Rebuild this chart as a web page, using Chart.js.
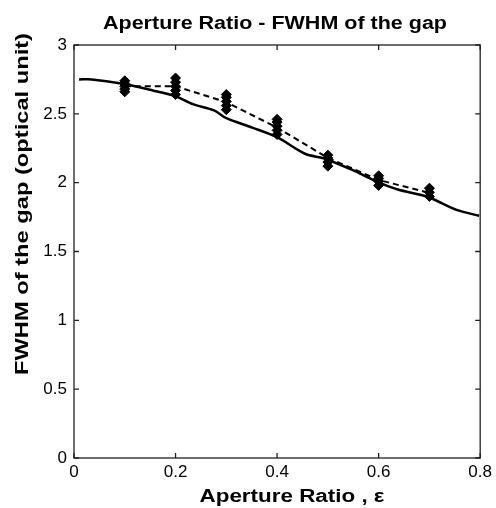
<!doctype html>
<html>
<head>
    <meta charset="utf-8" />
    <title>Aperture Ratio - FWHM of the gap</title>
    <script src="https://cdn.jsdelivr.net/npm/chart.js@4.4.1/dist/chart.umd.min.js"></script>
    <style>
        html, body { margin: 0; padding: 0; background: #fff; }
        #wrap { width: 496px; height: 508px; }
    </style>
</head>
<body>
    <div id="wrap"><canvas id="myChart" width="496" height="508"></canvas></div>
    <script>
        // theory curve (solid)
        var modelX = [0.01, 0.035, 0.093, 0.155, 0.198, 0.234, 0.276, 0.299, 0.351, 0.40, 0.455, 0.494, 0.547, 0.599, 0.638, 0.697, 0.755, 0.798];
        var modelY = [2.75, 2.75, 2.72, 2.67, 2.63, 2.57, 2.525, 2.47, 2.40, 2.33, 2.21, 2.174, 2.094, 2.004, 1.95, 1.896, 1.80, 1.76];

        // mean of measurements (dashed)
        var meanX = [0.1, 0.2, 0.3, 0.4, 0.5, 0.6, 0.7];
        var meanY = [2.70, 2.70, 2.585, 2.40, 2.18, 2.02, 1.925];

        // individual measurements (marker clusters)
        var sampleX = [0.1, 0.1, 0.1, 0.1, 0.1, 0.2, 0.2, 0.2, 0.2, 0.2, 0.3, 0.3, 0.3, 0.3, 0.3,
            0.4, 0.4, 0.4, 0.4, 0.4, 0.5, 0.5, 0.5, 0.5, 0.6, 0.6, 0.6, 0.6, 0.7, 0.7, 0.7];
        var sampleY = [2.66, 2.68, 2.70, 2.72, 2.74, 2.64, 2.67, 2.70, 2.73, 2.76, 2.53, 2.56, 2.59, 2.62, 2.64,
            2.35, 2.38, 2.41, 2.44, 2.46, 2.12, 2.15, 2.18, 2.20, 1.98, 2.01, 2.03, 2.05, 1.90, 1.93, 1.96];

        var xTicks = [0, 0.2, 0.4, 0.6, 0.8];
        var xTickLabels = ["0", "0.2", "0.4", "0.6", "0.8"];
        var yTicks = [0, 0.5, 1, 1.5, 2, 2.5, 3];
        var yTickLabels = ["0", "0.5", "1", "1.5", "2", "2.5", "3"];

        var titleText = "Aperture Ratio - FWHM of the gap";
        var xTitle = "Aperture Ratio , \u03b5";
        var yTitle = "FWHM of the gap (optical unit)";

        var FONT = "'Liberation Sans', Arial, sans-serif";

        function pts(xs, ys) {
            return xs.map(function (x, i) { return { x: x, y: ys[i] }; });
        }

        // the source picture has its text stretched along the line, so squeeze to a width
        function stretchedText(ctx, text, cx, cy, width, angle) {
            ctx.save();
            ctx.translate(cx, cy);
            ctx.rotate(angle);
            var w = ctx.measureText(text).width;
            ctx.scale(width / w, 1);
            ctx.fillText(text, 0, 0);
            ctx.restore();
        }

        // box, inward ticks and titles
        var frame = {
            id: "frame",
            afterDraw: function (chart) {
                var ctx = chart.ctx, a = chart.chartArea;
                var sx = chart.scales.x, sy = chart.scales.y;
                var t = 5;
                ctx.save();
                ctx.strokeStyle = "#222";
                ctx.lineWidth = 1.3;
                ctx.strokeRect(a.left, a.top, a.right - a.left, a.bottom - a.top);
                ctx.beginPath();
                xTicks.forEach(function (v) {
                    var px = sx.getPixelForValue(v);
                    ctx.moveTo(px, a.bottom); ctx.lineTo(px, a.bottom - t);
                    ctx.moveTo(px, a.top); ctx.lineTo(px, a.top + t);
                });
                yTicks.forEach(function (v) {
                    var py = sy.getPixelForValue(v);
                    ctx.moveTo(a.left, py); ctx.lineTo(a.left + t, py);
                    ctx.moveTo(a.right, py); ctx.lineTo(a.right - t, py);
                });
                ctx.stroke();

                ctx.fillStyle = "#000";
                ctx.textAlign = "center";
                ctx.textBaseline = "alphabetic";
                ctx.font = "bold 17.5px " + FONT;
                stretchedText(ctx, titleText, 275, 28.5, 344, 0);
                ctx.font = "bold 18px " + FONT;
                stretchedText(ctx, xTitle, 292, 501.5, 185, 0);
                stretchedText(ctx, yTitle, 28, 204, 342, -Math.PI / 2);
                ctx.restore();
            }
        };

        var chart = new Chart(document.getElementById("myChart"), {
            type: "scatter",
            data: {
                datasets: [{
                    label: "theory",
                    type: "line",
                    data: pts(modelX, modelY),
                    borderColor: "#000",
                    borderWidth: 2.5,
                    pointRadius: 0,
                    tension: 0.3,
                    fill: false
                }, {
                    label: "mean",
                    type: "line",
                    data: pts(meanX, meanY),
                    borderColor: "#000",
                    borderWidth: 2,
                    borderDash: [6, 4],
                    pointRadius: 0,
                    fill: false
                }, {
                    label: "samples",
                    data: pts(sampleX, sampleY),
                    pointStyle: "rectRot",
                    pointRadius: 5,
                    backgroundColor: "#000",
                    borderColor: "#000",
                    borderWidth: 1
                }]
            },
            options: {
                responsive: false,
                animation: false,
                layout: { padding: { left: 0, right: 13, top: 45, bottom: 0 } },
                plugins: {
                    legend: { display: false },
                    tooltip: { enabled: false },
                    title: { display: false }
                },
                scales: {
                    x: {
                        type: "linear",
                        min: 0, max: 0.8,
                        afterBuildTicks: function (s) { s.ticks = xTicks.map(function (v) { return { value: v }; }); },
                        afterFit: function (s) { s.height = 50; },
                        grid: { display: false, drawTicks: false },
                        border: { display: false },
                        ticks: {
                            padding: 4,
                            color: "#000",
                            maxRotation: 0,
                            font: { family: FONT, size: 17 },
                            callback: function (v) { return xTickLabels[xTicks.indexOf(v)]; }
                        }
                    },
                    y: {
                        min: 0, max: 3,
                        afterBuildTicks: function (s) { s.ticks = yTicks.map(function (v) { return { value: v }; }); },
                        afterFit: function (s) { s.width = 74; },
                        grid: { display: false, drawTicks: false },
                        border: { display: false },
                        ticks: {
                            padding: 7,
                            color: "#000",
                            font: { family: FONT, size: 17 },
                            callback: function (v) { return yTickLabels[yTicks.indexOf(v)]; }
                        }
                    }
                }
            },
            plugins: [frame]
        });
    </script>
</body>
</html>
